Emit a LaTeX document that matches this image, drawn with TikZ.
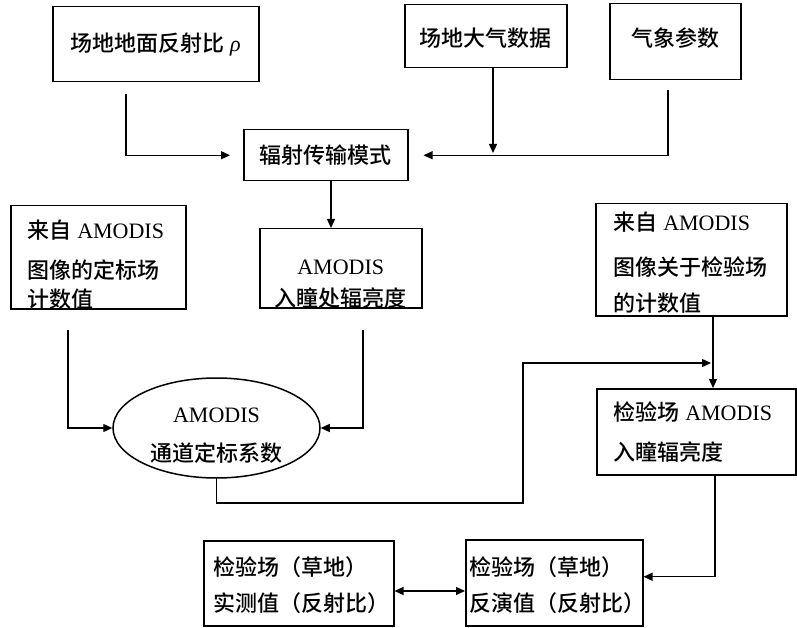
\documentclass[tikz,border=0pt]{standalone}
\usepackage{fontspec}
\setmainfont{Liberation Serif}
\newfontfamily\cjkfont{Noto Sans CJK SC}[UprightFont=* Medium,BoldFont=* Bold]
\usetikzlibrary{arrows.meta,shapes.geometric,calc}
\newcommand\zh[1]{{\cjkfont #1}}
\newcommand\lstrut{\rule[-6pt]{0pt}{26pt}}
% width, height, top gap, baselineskip, alignment, content
\newcommand\bxt[6]{\parbox[t][#2pt][t]{#1pt}{\fontsize{22}{#4}\selectfont\vspace*{#3pt}#5#6}}
\newcommand\lft[1]{\leftskip=#1pt\rightskip=0pt plus 1fil\relax}
\tikzset{
  box/.style={draw, line width=1.5pt, inner sep=0pt, anchor=north west},
  arr/.style={draw, line width=1.3pt, -{Triangle[length=9pt,width=8pt]}},
  dblarr/.style={draw, line width=1.3pt, {Triangle[length=9pt,width=8pt]}-{Triangle[length=9pt,width=8pt]}}
}
\begin{document}
\begin{tikzpicture}[x=1pt,y=-1pt]
\useasboundingbox[fill=white] (0,0) rectangle (797,628);
% boxes
\node[box] (A) at (52,6) {\bxt{206}{75}{25}{30pt}{\centering}{\lstrut\zh{场地地面反射比} {\itshape ρ}}};
\node[box] (B) at (404,4) {\bxt{162}{63}{22}{30pt}{\centering}{\lstrut\zh{场地大气数据}}};
\node[box] (C) at (609,3) {\bxt{131}{76}{23}{30pt}{\centering}{\lstrut\zh{气象参数}}};
\node[box] (D) at (243,129) {\bxt{164}{51}{14}{30pt}{\centering}{\lstrut\zh{辐射传输模式}}};
\node[box] (E) at (259,228) {\bxt{162}{79}{26}{32pt}{\centering}{\lstrut AMODIS\\\lstrut\zh{入瞳处辐亮度}}};
\node[box] (F) at (10,205) {\bxt{175}{103}{13}{29pt}{\lft{17}}{\lstrut\mbox{\zh{来自} AMODIS}\\[11pt]\lstrut\mbox{\zh{图像的定标场}}\\\lstrut\mbox{\zh{计数值}}}};
\node[draw, ellipse, line width=1.5pt, inner sep=0pt, minimum width=207pt, minimum height=100pt] (G) at (216.5,428)
  {\bxt{140}{70}{9}{39pt}{\centering}{\lstrut AMODIS\\\lstrut\zh{通道定标系数}}};
\node[box] (H) at (595,203) {\bxt{191}{112}{7}{36pt}{\lft{18}}{\lstrut\mbox{\zh{来自} AMODIS}\\[9pt]\lstrut\mbox{\zh{图像关于检验场}}\\\lstrut\mbox{\zh{的计数值}}}};
\node[box] (I) at (596,388) {\bxt{199}{86}{12}{40pt}{\lft{17}}{\lstrut\mbox{\zh{检验场} AMODIS}\\\lstrut\mbox{\zh{入瞳辐亮度}}}};
\node[box] (J) at (203,540) {\bxt{190}{85}{15}{36pt}{\lft{10}}{\lstrut\mbox{\zh{检验场（草地）}}\\\lstrut\mbox{\zh{实测值（反射比）}}}};
\node[box] (K) at (465,539) {\bxt{177}{86}{16}{36pt}{\lft{4}}{\lstrut\mbox{\zh{检验场（草地）}}\\\lstrut\mbox{\zh{反演值（反射比）}}}};
% free ends
\coordinate (a1) at (126,94);
\coordinate (b1) at (493,153);
\coordinate (c1) at (668,90);
\coordinate (f1) at (68,330);
\coordinate (e1) at (363,330);
\coordinate (j1) at (711,363);
% connectors
\draw[arr, shorten >=13pt] (a1) |- (D.west);
\draw[arr] (B.south -| b1) -- (b1);
\draw[arr, shorten >=15pt] (c1) |- (D.east);
\draw[arr] (D.south -| 331,0) -- (E.north -| 331,0);
\draw[arr] (f1) |- (G.west);
\draw[arr] (e1) |- (G.east);
\draw[arr] (G.south) |- (523,503) |- (j1);
\draw[arr] (H.south -| 713,0) -- (I.north -| 713,0);
\draw[arr] (I.south -| 715,0) |- ($(K.east)+(0,-6)$);
\draw[dblarr] (J.east |- 0,591) -- (K.west |- 0,591);
\end{tikzpicture}
\end{document}
